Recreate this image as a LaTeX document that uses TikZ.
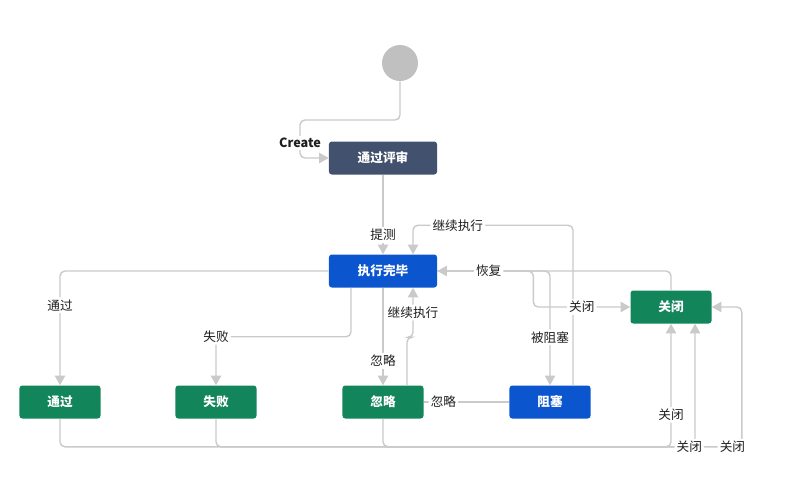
\documentclass[tikz,border=0pt]{standalone}
\usepackage{fontspec}
\setmainfont{Noto Sans CJK SC}
\usepackage{xcolor}
\usetikzlibrary{arrows.meta}
\definecolor{todobox}{HTML}{42526E}
\definecolor{doingbox}{HTML}{0B55CF}
\definecolor{donebox}{HTML}{12855A}
\definecolor{flowgray}{HTML}{CACACA}
\definecolor{startgray}{HTML}{C0C0C0}
\definecolor{labelink}{HTML}{1F1F1F}

\begin{document}
\begin{tikzpicture}[x=0.025cm, y=-0.025cm,
  state/.style={rounded corners=2pt, minimum height=0.825cm, font=\small\bfseries, text=white, inner sep=0pt},
  wide/.style={state, minimum width=2.7cm},
  narrow/.style={state, minimum width=2.025cm},
  flow/.style={draw=flowgray, line width=1pt, rounded corners=3.5pt, -{Triangle[length=2.4mm, width=2.6mm]}},
  lbl/.style={fill=white, font=\small, text=labelink, inner sep=1.5pt},
]
  \useasboundingbox (0,0) rectangle (800,495);

  \node[circle, fill=startgray, minimum size=0.9cm, inner sep=0pt] (start) at (400,63) {};
  \node[wide, fill=todobox] (review) at (383,158) {通过评审};
  \node[wide, fill=doingbox] (done) at (383,271) {执行完毕};
  \node[narrow, fill=donebox] (closed) at (671,307) {关闭};
  \node[narrow, fill=donebox] (pass) at (60,402) {通过};
  \node[narrow, fill=donebox] (fail) at (216,402) {失败};
  \node[narrow, fill=donebox] (ignore) at (383,402) {忽略};
  \node[narrow, fill=doingbox] (blocked) at (550,402) {阻塞};

  \draw[flow] (start.south) -- (400,120) -- (300,120)
    -- node[lbl, font=\small\bfseries, pos=0.6] {Create} (300,158) -- (review.west);
  \draw[flow] (review) -- node[lbl, pos=0.76] {提测} (done);

  \draw[flow] (done.west) -| node[lbl, pos=0.65] {通过} (pass);
  \draw[flow] ([xshift=-0.8cm]done.south) -- ++(0,49) -| node[lbl, pos=0.5] {失败} (fail);
  \draw[flow] (done) -- node[lbl, pos=0.75] {忽略} (ignore);
  \draw[flow] ([xshift=0.6cm]ignore.north) -- ++(0,-48)
    -| node[lbl, pos=0.75] {继续执行} ([xshift=0.75cm]done.south);
  \draw[flow, -] (blocked) -- node[lbl, pos=0.77] {忽略} (ignore);

  \draw[flow] ([xshift=0.575cm]blocked.north) -- ++(0,-160)
    -| node[lbl, pos=0.36] {继续执行} ([xshift=0.75cm]done.north);
  \draw[flow] (done.east) -| node[lbl, pos=0.79] {被阻塞} (blocked);
  \draw[flow] (done.east) -- ++(96,0) |- node[lbl, pos=0.75] {关闭} (closed.west);
  \draw[flow] (closed.north) |- node[lbl, pos=0.89] {恢复} (done.east);

  \draw[flow] (ignore.south) -- ++(0,28)
    -| node[lbl, pos=0.487] {关闭} ([xshift=0.75cm]closed.east) -- (closed.east);
  \draw[flow] (pass.south) -- ++(0,28) -| node[lbl, pos=0.63] {关闭} (closed.south);
  \draw[flow] (fail.south) -- ++(0,28)
    -| node[lbl, pos=0.494] {关闭} ([xshift=0.6cm]closed.south);
\end{tikzpicture}
\end{document}
